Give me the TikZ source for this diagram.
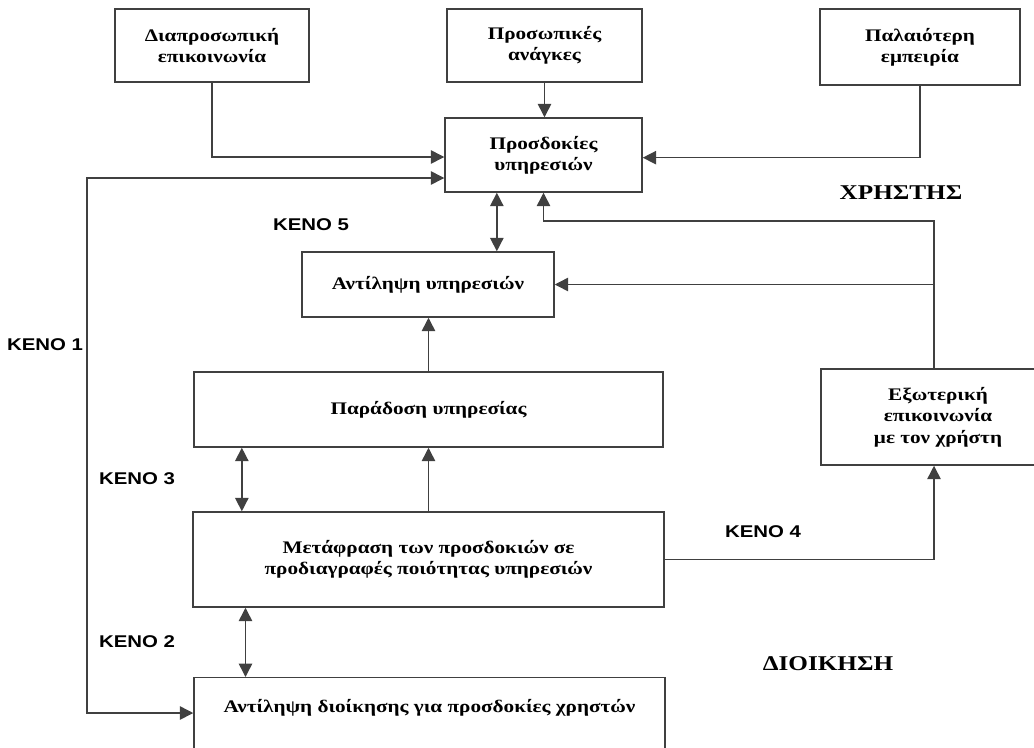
\documentclass[tikz,border=0pt]{standalone}
\usepackage{fontspec}
\setmainfont{Liberation Serif}[FakeStretch=1.2]
\newfontfamily\kenofont{Liberation Sans}[FakeStretch=1.2]
\usetikzlibrary{arrows.meta, positioning}

\begin{document}
\begin{tikzpicture}[x=0.75pt, y=-0.75pt,
  box/.style={rectangle, draw=black!75, line width=1.1pt, align=center,
    font=\fontsize{13.25}{16}\selectfont\bfseries},
  arr/.style={draw=black!75, line width=1.1pt, -{Triangle[length=10pt, width=10pt]}},
  arrtwo/.style={draw=black!75, line width=1.1pt,
    {Triangle[length=10pt, width=10pt]}-{Triangle[length=10pt, width=10pt]}},
  keno/.style={font=\kenofont\fontsize{12.75}{15}\selectfont\bfseries},
  side/.style={font=\fontsize{15.75}{18}\selectfont\bfseries}]
\useasboundingbox (0,0) rectangle (1034,747);

\node[box, minimum width=145.5pt, minimum height=54.75pt] (DIA) at (212,45.5) {Διαπροσωπική\\ επικοινωνία};
\node[box, minimum width=146.25pt, minimum height=54.75pt] (ANA) at (544.5,45.5) {Προσωπικές\\ ανάγκες};
\node[box, minimum width=150pt, minimum height=57pt] (PAL) at (920,47) {Παλαιότερη\\ εμπειρία};
\node[box, minimum width=147.75pt, minimum height=55.5pt] (PRO) at (543.5,155) {Προσδοκίες\\ υπηρεσιών};
\node[box, minimum width=189pt, minimum height=48.75pt] (ANT) at (428,284.5) {Αντίληψη υπηρεσιών};
\node[box, minimum width=351.75pt, minimum height=56.25pt] (PAR) at (428.5,409.5) {Παράδοση υπηρεσίας};
\node[box, minimum width=175.5pt, minimum height=72pt] (EXO) at (938,417) {Εξωτερική\\ επικοινωνία\\ με τον χρήστη};
\node[box, minimum width=353.25pt, minimum height=71.25pt] (MET) at (428.5,559.5) {Μετάφραση των προσδοκιών σε\\ προδιαγραφές ποιότητας υπηρεσιών};
\node[box, minimum width=353.25pt, inner ysep=0pt, text height=26pt, text depth=80pt, anchor=north] (DIO) at (429.5,677) {Αντίληψη διοίκησης για προσδοκίες χρηστών};

\coordinate (K1a) at (87,178);
\coordinate (K1b) at (87,713);
\coordinate (FB) at (934,221);

\draw[arr] (DIA.south) |- ([yshift=-1.5pt]PRO.west);
\draw[arr] (ANA.south) -- (ANA.south |- PRO.north);
\draw[arr] (PAL.south) |- ([yshift=-2pt]PRO.east);
\draw[arrtwo] (K1a -| PRO.west) -- (K1a) -- (K1b) -- (K1b -| DIO.west);
\draw[arrtwo] ([xshift=-35pt]PRO.south) -- ([xshift=-35pt]PRO.south |- ANT.north);
\draw[arr] (EXO.north -| FB) -- (FB) -| (PRO.south);
\draw[arr] (FB |- ANT.east) -- (ANT.east);
\draw[arr] (PAR.north) -- (PAR.north |- ANT.south);
\draw[arr] (MET.north) -- (MET.north |- PAR.south);
\draw[arrtwo] ([xshift=-140pt]PAR.south) -- ([xshift=-140pt]PAR.south |- MET.north);
\draw[arrtwo] ([xshift=-137.25pt]MET.south) -- ([xshift=-137.25pt]MET.south |- DIO.north);
\draw[arr] (MET.east) -| (FB |- EXO.south);

\node[keno] (K5) at (311,225) {ΚΕΝΟ 5};
\node[keno] (K1) at (45,345) {ΚΕΝΟ 1};
\node[keno] (K3) at (137,479) {ΚΕΝΟ 3};
\node[keno] (K2) at (137,642) {ΚΕΝΟ 2};
\node[keno] (K4) at (763,532) {ΚΕΝΟ 4};
\node[side] (USR) at (901,193) {ΧΡΗΣΤΗΣ};
\node[side] (ADM) at (828,664) {ΔΙΟΙΚΗΣΗ};
\end{tikzpicture}
\end{document}
